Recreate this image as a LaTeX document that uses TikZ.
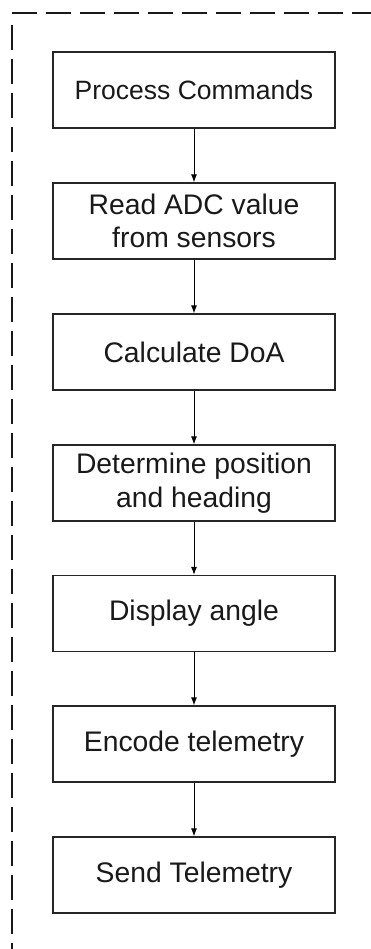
\documentclass[tikz,border=0pt]{standalone}
\usepackage{fontspec}
\setmainfont{Liberation Sans}
\usetikzlibrary{arrows.meta}

\begin{document}
\begin{tikzpicture}[x=1pt,y=-1pt,
  stepbox/.style={draw=black!85, line width=1.2pt, minimum width=282pt,
    minimum height=76pt, inner sep=0pt, align=center,
    font=\fontsize{28.3}{33.5}\selectfont, text=black!90},
  flow/.style={draw=black, line width=1pt,
    -{Latex[length=8pt,width=6pt]}},
  frame/.style={draw=black!90, line width=2.8pt, dash pattern=on 25pt off 9pt}
]
\useasboundingbox (0,0) rectangle (370,949);

% dashed enclosure (top and left edges)
\draw[frame] (12,13) -- (372,13);
\draw[frame, dash phase=25pt] (12,16) -- (12,952);

% process steps
\node[stepbox, font=\fontsize{26.5}{32}\selectfont] (s1) at (194,90) {Process Commands};
\node[stepbox] (s2) at (194,221) {Read ADC value\\from sensors};
\node[stepbox] (s3) at (194,352) {Calculate DoA};
\node[stepbox] (s4) at (194,483) {Determine position\\and heading};
\node[stepbox] (s5) at (194,613.5) {Display angle};
\node[stepbox] (s6) at (194,744) {Encode telemetry};
\node[stepbox] (s7) at (194,875) {Send Telemetry};

% connectors
\foreach \a/\b in {s1/s2, s2/s3, s3/s4, s4/s5, s5/s6, s6/s7}
  \draw[flow] (\a.south) -- (\b.north);
\end{tikzpicture}
\end{document}
